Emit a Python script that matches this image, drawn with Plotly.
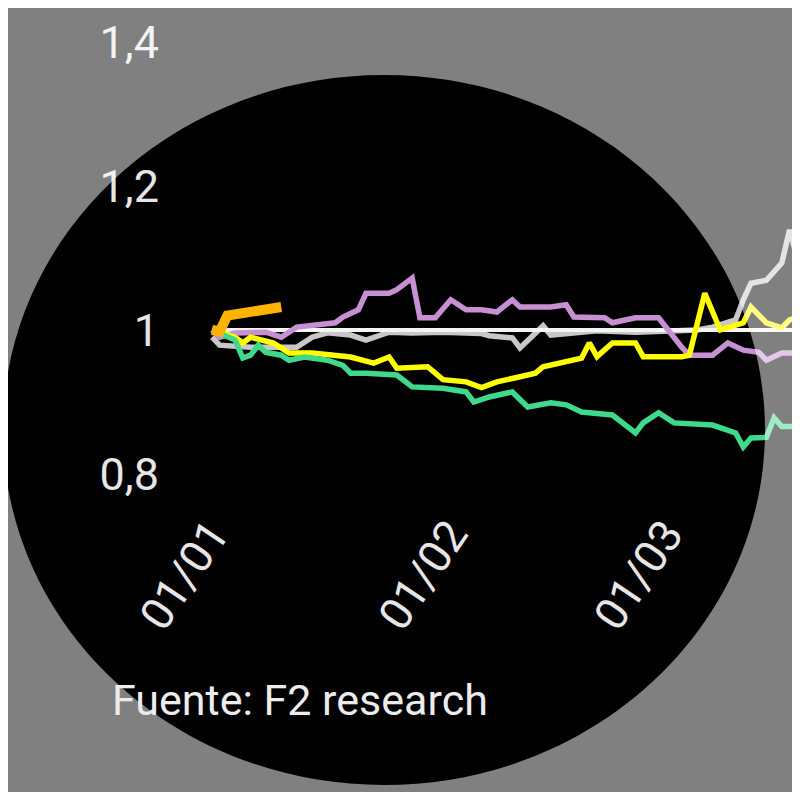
import pandas as pd
import plotly.graph_objects as go

W, H = 800, 792
OFF = 8  # the page body margin shifts the figure by 8px

# plot area in screen pixels
SL, SR, ST, SB = 160, W + OFF, OFF, 498
ML, MR, MT, MB = SL - OFF, 0, 0, H - (SB - OFF)
PW, PH = SR - SL, SB - ST

start = pd.Timestamp("2021-01-01")

# values (days since 01/01, index level)
orange_days = [0, 1, 2, 4, 6, 8, 9]
orange_vals = [1.000, 0.998, 1.020, 1.023, 1.025, 1.028, 1.032]

purple_days = [0, 1, 3, 7, 9, 11, 16, 17, 19, 20, 23, 24, 26, 27, 29, 31, 33, 35, 37, 39,
               40, 44, 46, 47, 51, 52, 55, 58, 61, 62, 65, 67, 69, 71, 72, 74, 77]
purple_vals = [1.0, 0.99, 0.996, 0.997, 0.99, 1.004, 1.01, 1.018, 1.028, 1.051,
               1.051, 1.056, 1.072, 1.017, 1.017, 1.042, 1.028, 1.028, 1.025, 1.042,
               1.032, 1.032, 1.035, 1.018, 1.017, 1.01, 1.017, 1.017, 0.976, 0.965,
               0.965, 0.982, 0.972, 0.969, 0.958, 0.968, 0.968]

gray_days = [0, 1, 5, 11, 13, 15, 18, 20, 23, 26, 30, 35, 36, 39, 40, 42, 43, 44, 47, 50,
             55, 60, 63, 65, 68, 69, 70, 72, 74, 75, 76, 77]
gray_vals = [0.99, 0.979, 0.976, 0.976, 0.99, 0.996, 0.993, 0.986, 0.997, 0.996,
             0.997, 0.995, 0.992, 0.989, 0.975, 0.997, 1.006, 0.993, 0.996, 0.999,
             0.997, 0.999, 1.0, 1.004, 1.014, 1.042, 1.065, 1.069, 1.093, 1.139,
             1.101, 1.09]

yellow_days = [0, 3, 4, 5, 8, 10, 13, 18, 21, 23, 24, 28, 30, 33, 35, 37, 40, 42, 43, 45,
               47, 48, 49, 50, 52, 55, 56, 61, 62, 64, 66, 67, 69, 70, 72, 74, 75, 77]
yellow_vals = [1.0, 0.99, 0.982, 0.99, 0.982, 0.968, 0.968, 0.9625, 0.954, 0.9625,
               0.947, 0.949, 0.931, 0.928, 0.92, 0.928, 0.935, 0.94, 0.949, 0.954,
               0.958, 0.961, 0.982, 0.963, 0.982, 0.982, 0.963, 0.963, 0.965, 1.051,
               1.0, 1.004, 1.01, 1.032, 1.01, 1.003, 1.014, 1.02]

green_days = [0, 3, 4, 5, 6, 7, 9, 10, 12, 15, 17, 18, 20, 24, 26, 30, 33, 34, 36, 39,
              41, 44, 46, 48, 52, 55, 56, 58, 60, 65, 68, 69, 70, 72, 73, 74, 77]
green_vals = [1.0, 0.986, 0.961, 0.965, 0.979, 0.969, 0.965, 0.958, 0.9625, 0.958,
              0.951, 0.94, 0.94, 0.9375, 0.921, 0.919, 0.914, 0.9, 0.907, 0.914,
              0.893, 0.899, 0.896, 0.886, 0.882, 0.857, 0.871, 0.885, 0.871, 0.868,
              0.857, 0.8375, 0.85, 0.851, 0.878, 0.866, 0.866]

ref_days = [0, 78]
ref_vals = [1.0, 1.0]

series = [
    (gray_days, gray_vals, "#c8c8c8", 5.5),
    (ref_days, ref_vals, "#f4f4f4", 4),
    (purple_days, purple_vals, "#c690d2", 5.5),
    (yellow_days, yellow_vals, "#ffff00", 5.5),
    (green_days, green_vals, "#3ed98a", 5.5),
    (orange_days, orange_vals, "#ffb300", 10),
]

fig = go.Figure()
for days, vals, color, width in series:
    fig.add_trace(go.Scatter(
        x=start + pd.to_timedelta(days, unit="D"), y=vals, mode="lines",
        line=dict(color=color, width=width), showlegend=False, hoverinfo="skip"))


def paper(px, py):
    # screen pixel -> paper coords
    return (px - SL) / PW, (SB - py) / PH


# grey veil outside the round frame (rect with elliptical hole)
cx, cy, rx, ry, k = 384, 430, 381, 355, 0.5523
pts = [
    ("M", [(-20, -20)]), ("L", [(W + 30, -20)]), ("L", [(W + 30, H + 30)]),
    ("L", [(-20, H + 30)]), ("Z", []),
    ("M", [(cx + rx, cy)]),
    ("C", [(cx + rx, cy + k * ry), (cx + k * rx, cy + ry), (cx, cy + ry)]),
    ("C", [(cx - k * rx, cy + ry), (cx - rx, cy + k * ry), (cx - rx, cy)]),
    ("C", [(cx - rx, cy - k * ry), (cx - k * rx, cy - ry), (cx, cy - ry)]),
    ("C", [(cx + k * rx, cy - ry), (cx + rx, cy - k * ry), (cx + rx, cy)]),
    ("Z", []),
]
path = ""
for cmd, coords in pts:
    path += cmd + " ".join("%.5f,%.5f" % paper(*c) for c in coords) + " "

fig.add_shape(type="path", path=path.strip(), xref="paper", yref="paper",
              fillcolor="rgba(255,255,255,0.5)", fillrule="evenodd",
              line=dict(width=0), layer="above")

fx, fy = paper(110, 700)
fig.add_annotation(text="Fuente: F2 research", xref="paper", yref="paper",
                   x=fx, y=fy, xanchor="left", yanchor="middle", showarrow=False,
                   font=dict(size=43, color="#ececec"))

px_per_day = 7.7
x0 = start + pd.Timedelta(days=(SL - 212) / px_per_day)
x1 = start + pd.Timedelta(days=(SR - 212) / px_per_day)

fig.update_layout(
    width=W, height=H,
    margin=dict(l=ML, r=MR, t=MT, b=MB, pad=0),
    paper_bgcolor="black", plot_bgcolor="black",
    separators=",.",
    font=dict(family="Roboto", size=45, color="#e6e6e6"),
    xaxis=dict(type="date", range=[x0, x1], tick0="2021-01-01", dtick="M1",
               tickformat="%d/%m", tickangle=-56, showgrid=False, zeroline=False,
               showline=False, ticks=""),
    yaxis=dict(range=[1 - (SB - 330) / 720, 1 + (330 - ST) / 720], tick0=0, dtick=0.2,
               showgrid=False, zeroline=False, showline=False, ticks=""),
)

fig.write_html("out.html")
